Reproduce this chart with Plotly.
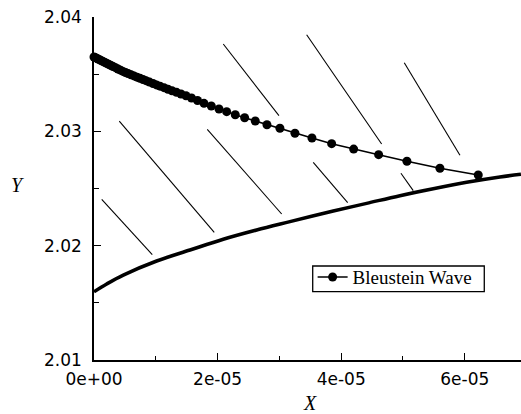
import plotly.graph_objects as go

# Bleustein wave (dots joined by a thin line)
wave_x = [0, 1.6e-7, 4.0e-7, 6.5e-7, 8.9e-7, 1.13e-6, 1.46e-6, 1.78e-6, 2.10e-6, 2.43e-6,
          2.75e-6, 3.07e-6, 3.48e-6, 3.88e-6, 4.29e-6, 4.69e-6, 5.10e-6, 5.50e-6, 5.99e-6,
          6.47e-6, 6.96e-6, 7.44e-6, 7.93e-6, 8.41e-6, 8.98e-6, 9.55e-6, 1.011e-5, 1.068e-5,
          1.133e-5, 1.197e-5, 1.262e-5, 1.335e-5, 1.408e-5, 1.489e-5, 1.578e-5, 1.675e-5,
          1.780e-5, 1.898e-5, 2.023e-5, 2.147e-5, 2.286e-5, 2.438e-5, 2.610e-5, 2.799e-5,
          3.009e-5, 3.252e-5, 3.527e-5, 3.846e-5, 4.202e-5, 4.606e-5, 5.064e-5, 5.598e-5,
          6.218e-5]
wave_y = [2.03650, 2.03646, 2.03640, 2.03633, 2.03627, 2.03620, 2.03611, 2.03602, 2.03593,
          2.03585, 2.03576, 2.03567, 2.03557, 2.03545, 2.03535, 2.03524, 2.03515, 2.03506,
          2.03495, 2.03485, 2.03474, 2.03464, 2.03453, 2.03443, 2.03431, 2.03418, 2.03406,
          2.03395, 2.03382, 2.03368, 2.03355, 2.03341, 2.03327, 2.03311, 2.03292, 2.03270,
          2.03245, 2.03222, 2.03195, 2.03172, 2.03145, 2.03119, 2.03090, 2.03058, 2.03027,
          2.02983, 2.02942, 2.02892, 2.02845, 2.02796, 2.02738, 2.02677, 2.02618]

# Thick lower bounding curve
bound_x = [0, 2.05e-6, 4.74e-6, 1.014e-5, 1.553e-5, 2.092e-5, 2.632e-5, 3.171e-5, 3.872e-5,
           4.412e-5, 4.951e-5, 5.490e-5, 6.030e-5, 6.569e-5, 6.909e-5]
bound_y = [2.01597, 2.01665, 2.01743, 2.01866, 2.01962, 2.02056, 2.02137, 2.02210, 2.02303,
           2.02370, 2.02437, 2.02498, 2.02554, 2.02601, 2.02624]

# Hatch segments (start/end pairs)
hatch_x0 = [1.25e-6, 4.09e-6, 1.833e-5, 2.092e-5, 3.441e-5, 3.548e-5, 4.967e-5, 5.021e-5]
hatch_y0 = [2.02405, 2.03090, 2.03018, 2.03764, 2.03845, 2.02729, 2.02633, 2.03600]
hatch_x1 = [9.43e-6, 1.946e-5, 3.037e-5, 2.993e-5, 4.655e-5, 4.105e-5, 5.166e-5, 5.922e-5]
hatch_y1 = [2.01921, 2.02117, 2.02277, 2.03137, 2.02889, 2.02376, 2.02481, 2.02790]

x_tickvals = [0, 2e-5, 4e-5, 6e-5]
x_ticktext = ["0e+00", "2e-05", "4e-05", "6e-05"]
y_tickvals = [2.01, 2.02, 2.03, 2.04]
y_ticktext = ["2.01", "2.02", "2.03", "2.04"]

hx, hy = [], []
for a, b, c, d in zip(hatch_x0, hatch_y0, hatch_x1, hatch_y1):
    hx += [a, c, None]
    hy += [b, d, None]

fig = go.Figure()
fig.add_trace(go.Scatter(x=hx, y=hy, mode="lines", line=dict(color="black", width=1.1),
                         showlegend=False, hoverinfo="skip"))
fig.add_trace(go.Scatter(x=bound_x, y=bound_y, mode="lines",
                         line=dict(color="black", width=3.5, shape="spline"),
                         showlegend=False, cliponaxis=False))
fig.add_trace(go.Scatter(x=wave_x, y=wave_y, mode="lines+markers", name="Bleustein Wave",
                         line=dict(color="black", width=1.6),
                         marker=dict(color="black", size=9), cliponaxis=False))

axis_common = dict(showline=True, linecolor="black", linewidth=1.5, ticks="inside",
                   ticklen=7, tickwidth=1.3, tickcolor="black", showgrid=False,
                   zeroline=False, mirror=False,
                   tickfont=dict(family="DejaVu Sans", size=17, color="black"))
fig.update_xaxes(range=[0, 6.91e-5], tickvals=x_tickvals, ticktext=x_ticktext,
                 minor=dict(ticks="inside", dtick=1e-5, tick0=0, ticklen=4,
                            tickwidth=1.2, tickcolor="black"),
                 ticklabelstandoff=3, **axis_common)
fig.update_yaxes(range=[2.01, 2.04], tickvals=y_tickvals, ticktext=y_ticktext,
                 minor=dict(ticks="inside", dtick=0.005, tick0=2.01, ticklen=5,
                            tickwidth=1.2, tickcolor="black"),
                 ticklabelstandoff=7, **axis_common)

fig.update_layout(
    width=521, height=414,
    margin=dict(l=94, r=0, t=17, b=54),
    plot_bgcolor="white", paper_bgcolor="white",
    showlegend=True,
    legend=dict(x=0.512, y=0.297, xanchor="left", yanchor="top",
                borderwidth=0, bgcolor="rgba(0,0,0,0)",
                font=dict(family="Liberation Serif", size=19, color="black"),
                itemwidth=30, tracegroupgap=0),
    shapes=[dict(type="rect", xref="paper", yref="paper", x0=0.5122, x1=0.914,
                 y0=0.1991, y1=0.274, line=dict(color="black", width=1.3),
                 fillcolor="white", layer="below")],
    annotations=[
        dict(text="<i>Y</i>", xref="paper", yref="paper", x=-0.18, y=0.51,
             showarrow=False, xanchor="center", yanchor="middle",
             font=dict(family="Liberation Serif", size=20, color="black")),
        dict(text="<i>X</i>", xref="paper", yref="paper", x=0.507, y=-0.125,
             showarrow=False, xanchor="center", yanchor="middle",
             font=dict(family="Liberation Serif", size=20, color="black")),
    ],
)
fig.write_html("out.html")
